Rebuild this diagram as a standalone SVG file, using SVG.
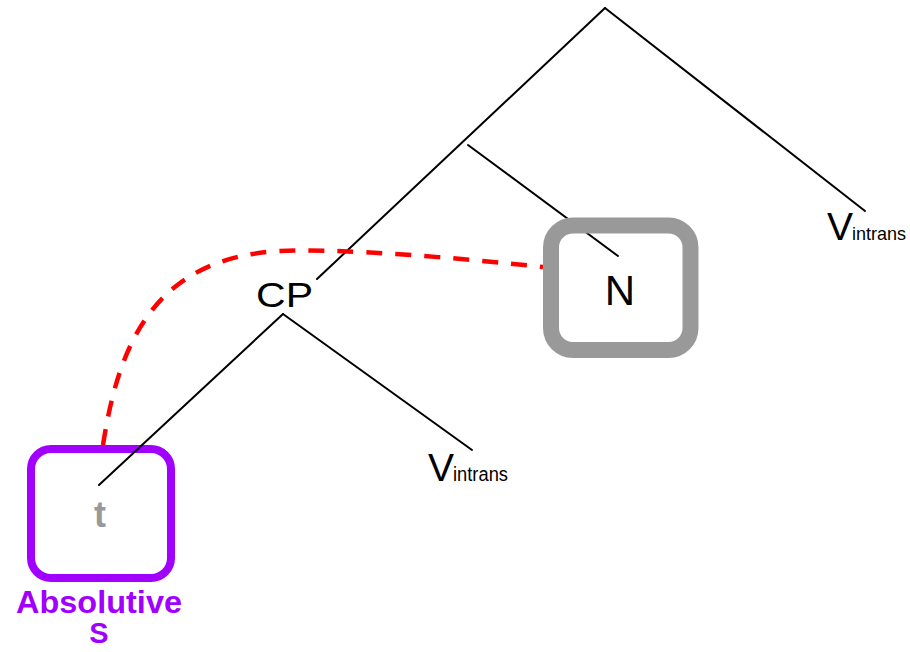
<svg xmlns="http://www.w3.org/2000/svg" width="910" height="652" viewBox="0 0 910 652">
<style>
.edge{stroke:#000;stroke-width:2;fill:none;stroke-linecap:round}
.lbl{font-family:"Liberation Sans",Arial,sans-serif;fill:#000}
.move{stroke:#ff0000;stroke-width:4.5;fill:none;stroke-dasharray:16 13}
</style>
<rect width="910" height="652" fill="#fff"/>
<g id="trace-box">
<rect x="31" y="449" width="140" height="129" rx="20" fill="#fff" stroke="#a100ff" stroke-width="8"/>
</g>
<g id="connectors">
<line class="edge" x1="605" y1="8" x2="865" y2="211"/>
<line class="edge" x1="605" y1="8" x2="317" y2="279"/>
<line class="edge" x1="468" y1="145" x2="618" y2="256"/>
<line class="edge" x1="283" y1="314" x2="99" y2="485"/>
<line class="edge" x1="283" y1="314" x2="472" y2="450"/>
<path class="move" d="M103,445 C118,350 150,258 280,251 C340,248 460,258 543,267"/>
</g>
<g id="N-box">
<rect x="551" y="225.5" width="139.5" height="124.5" rx="22" fill="none" stroke="#999999" stroke-width="16"/>
<text class="lbl" x="620" y="305" font-size="42" text-anchor="middle">N</text>
</g>
<g id="CP">
<text class="lbl" x="256" y="307" font-size="35" textLength="57" lengthAdjust="spacingAndGlyphs">CP</text>
</g>
<g id="V-top">
<text class="lbl" x="827" y="240" font-size="39">V</text>
<text class="lbl" x="852" y="240" font-size="19" textLength="54" lengthAdjust="spacingAndGlyphs">intrans</text>
</g>
<g id="V-lower">
<text class="lbl" x="428" y="481" font-size="39">V</text>
<text class="lbl" x="453" y="481" font-size="20" textLength="55" lengthAdjust="spacingAndGlyphs">intrans</text>
</g>
<g id="t">
<text class="lbl" x="100" y="527" font-size="36" font-weight="bold" text-anchor="middle" style="fill:#999999">t</text>
</g>
<g id="absolutive-label">
<text class="lbl" x="99" y="613" font-size="32" font-weight="bold" text-anchor="middle" textLength="166" lengthAdjust="spacingAndGlyphs" style="fill:#a100ff">Absolutive</text>
<text class="lbl" x="99" y="643" font-size="29" font-weight="bold" text-anchor="middle" style="fill:#a100ff">S</text>
</g>
</svg>
